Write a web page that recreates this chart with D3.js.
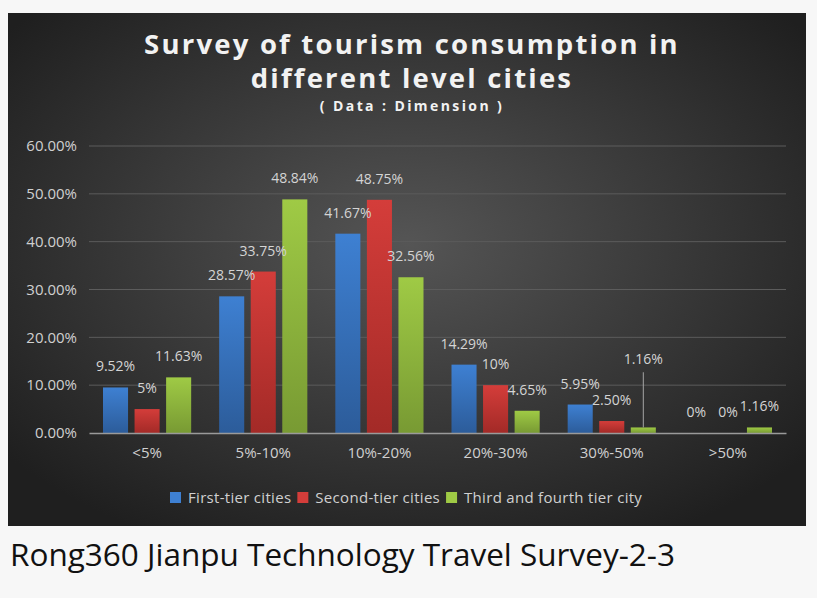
<!DOCTYPE html>
<html lang="en">
<head>
<meta charset="UTF-8">
<title>Survey of tourism consumption in different level cities</title>
<script src="https://d3js.org/d3.v7.min.js"></script>
<style>
  body { margin: 0; background: #f7f7f7; }
  svg { display: block; }
  .tick text { font-family: 'Open Sans', sans-serif; }
</style>
</head>
<body>
<svg id="chart" width="817" height="598"></svg>
<script>
// categories and series (values in %)
const categories = ["<5%", "5%-10%", "10%-20%", "20%-30%", "30%-50%", ">50%"];
const seriesNames = ["First-tier cities", "Second-tier cities", "Third and fourth tier city"];
const firstTier  = [9.52, 28.57, 41.67, 14.29, 5.95, 0];
const secondTier = [5, 33.75, 48.75, 10, 2.5, 0];
const thirdTier  = [11.63, 48.84, 32.56, 4.65, 1.16, 1.16];
const firstLabels  = ["9.52%", "28.57%", "41.67%", "14.29%", "5.95%", "0%"];
const secondLabels = ["5%", "33.75%", "48.75%", "10%", "2.50%", "0%"];
const thirdLabels  = ["11.63%", "48.84%", "32.56%", "4.65%", "1.16%", "1.16%"];
const yTicks = [0, 10, 20, 30, 40, 50, 60];

const colors = [
  { top: "#3e80d2", bottom: "#2c5c9a" },
  { top: "#d43d3a", bottom: "#a32a27" },
  { top: "#9fca45", bottom: "#789a33" }
];

const svg = d3.select("#chart");
const defs = svg.append("defs");

// dark background with radial glow
const bg = defs.append("radialGradient").attr("id", "bg")
  .attr("cx", "50%").attr("cy", "45%").attr("r", "65%");
bg.append("stop").attr("offset", "0%").attr("stop-color", "#555555");
bg.append("stop").attr("offset", "100%").attr("stop-color", "#1f1f1f");

colors.forEach((c, i) => {
  const g = defs.append("linearGradient").attr("id", "bar" + i)
    .attr("x1", 0).attr("y1", 0).attr("x2", 0).attr("y2", 1);
  g.append("stop").attr("offset", "0%").attr("stop-color", c.top);
  g.append("stop").attr("offset", "100%").attr("stop-color", c.bottom);
});

svg.append("rect").attr("x", 8).attr("y", 13).attr("width", 798).attr("height", 513)
  .attr("fill", "url(#bg)");

// title
function titleText(txt, yPos, size, spacing) {
  svg.append("text").attr("x", 412).attr("y", yPos).attr("text-anchor", "middle")
    .attr("font-family", "'Open Sans', sans-serif").attr("font-weight", "bold")
    .attr("font-size", size).attr("letter-spacing", spacing + "px")
    .attr("fill", "#f2f2f2").text(txt);
}
titleText("Survey of tourism consumption in", 54, 27.5, 2.2);
titleText("different level cities", 88, 27.5, 2.2);
titleText("( Data : Dimension )", 111, 14, 2.4);

// plot area
const margin = { left: 89, right: 786, top: 146, bottom: 433 };
const x = d3.scaleBand().domain(categories).range([margin.left, margin.right]);
const xs = d3.scaleBand().domain(d3.range(3)).range([14, x.bandwidth() - 14]).paddingInner(0.206);
const y = d3.scaleLinear().domain([0, 60]).range([margin.bottom, margin.top]);

// grid
svg.append("g").selectAll("line").data(yTicks.slice(1)).join("line")
  .attr("x1", margin.left).attr("x2", margin.right)
  .attr("y1", d => y(d)).attr("y2", d => y(d))
  .attr("stroke", "#5c5c5c").attr("stroke-width", 1);

// y axis labels
const yAxis = svg.append("g").attr("transform", `translate(${margin.left},0)`)
  .call(d3.axisLeft(y).tickValues(yTicks).tickFormat(d => d.toFixed(2) + "%").tickSize(0).tickPadding(12));
yAxis.select(".domain").remove();
yAxis.selectAll("text").attr("font-size", 15).attr("fill", "#d0d0d0");

const series = [firstTier, secondTier, thirdTier];
const labels = [firstLabels, secondLabels, thirdLabels];

// bars
series.forEach((vals, s) => {
  svg.append("g").selectAll("rect").data(vals).join("rect")
    .attr("x", (d, i) => x(categories[i]) + xs(s))
    .attr("width", xs.bandwidth())
    .attr("y", d => y(d))
    .attr("height", d => y(0) - y(d))
    .attr("fill", "url(#bar" + s + ")");
});

// x axis
const xAxis = svg.append("g").attr("transform", `translate(0,${margin.bottom})`)
  .call(d3.axisBottom(x).tickSize(0).tickPadding(14));
xAxis.select(".domain").attr("stroke", "#9a9a9a").attr("stroke-width", 1.5);
xAxis.selectAll("text").attr("font-size", 15).attr("fill", "#d0d0d0");

// data labels (30%-50% third tier label lifted with a leader line)
series.forEach((vals, s) => {
  vals.forEach((d, i) => {
    const cx = x(categories[i]) + xs(s) + xs.bandwidth() / 2;
    let ly = y(d) - 16;
    if (s === 2 && i === 4) {
      ly = y(14.4);
      svg.append("line").attr("x1", cx).attr("x2", cx)
        .attr("y1", y(12.7)).attr("y2", y(d))
        .attr("stroke", "#a6a6a6").attr("stroke-width", 1);
    }
    svg.append("text").attr("x", cx).attr("y", ly)
      .attr("text-anchor", "middle")
      .attr("font-family", "'Open Sans', sans-serif").attr("font-size", 14)
      .attr("fill", "#d4d4d4")
      .text(labels[s][i]);
  });
});

// legend
const legend = svg.append("g").attr("font-family", "'Open Sans', sans-serif")
  .attr("font-size", 15).attr("letter-spacing", "0.3px").attr("fill", "#d0d0d0");
let lx = 170;
seriesNames.forEach((name, s) => {
  legend.append("rect").attr("x", lx).attr("y", 492).attr("width", 11).attr("height", 11)
    .attr("fill", colors[s].top);
  const t = legend.append("text").attr("x", lx + 18).attr("y", 503).text(name);
  lx += 18 + t.node().getComputedTextLength() + 6;
});

// caption
svg.append("text").attr("x", 10).attr("y", 566)
  .attr("font-family", "'Open Sans', sans-serif").attr("font-size", 31.5)
  .attr("fill", "#111").text("Rong360 Jianpu Technology Travel Survey-2-3");
</script>
</body>
</html>
